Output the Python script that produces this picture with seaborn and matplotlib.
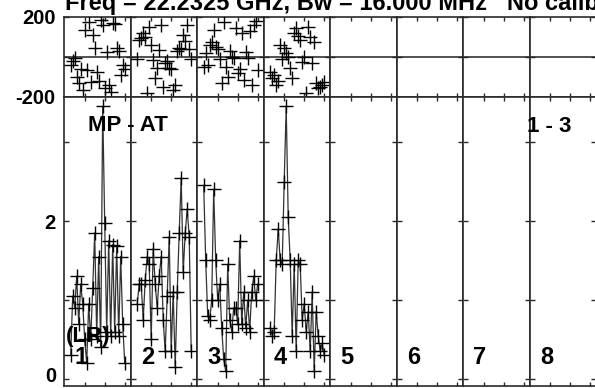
import matplotlib
matplotlib.use("Agg")
import matplotlib.pyplot as plt
import seaborn as sns
import pandas as pd

# channel numbers used in every baseline panel
channels = list(range(3, 31))

# amplitude per panel (panels 1-4 carry data, 5-8 are empty)
amp_1 = [0.30, 1.05, 0.90, 1.30, 0.70, 1.20, 0.95, 0.50, 0.20, 0.95, 0.50, 1.15, 1.85, 0.55,
         1.55, 0.40, 3.45, 1.97, 0.60, 1.75, 0.55, 1.70, 0.60, 1.68, 0.55, 1.55, 0.70, 0.20]
amp_2 = [0.95, 1.20, 1.20, 0.75, 1.25, 1.55, 1.45, 0.50, 1.65, 1.20, 0.90, 1.30, 1.55, 0.75,
         0.35, 1.05, 1.80, 0.35, 1.10, 0.15, 1.10, 1.85, 2.55, 1.35, 1.85, 2.15, 1.80, 0.35]
amp_3 = [2.45, 1.50, 0.80, 0.75, 1.00, 2.40, 1.50, 1.00, 1.20, 0.65, 0.25, 0.10, 1.45, 0.75,
         0.60, 0.90, 0.90, 0.70, 1.75, 0.70, 1.10, 0.65, 1.00, 0.60, 1.10, 1.30, 1.00, 1.20]
amp_4 = [0.65, 0.55, 0.60, 1.50, 1.90, 1.50, 1.45, 2.50, 3.45, 2.05, 1.50, 0.55, 1.45, 0.35,
         1.50, 1.45, 0.75, 0.95, 0.60, 0.85, 0.35, 1.10, 0.10, 0.85, 0.55, 0.35, 0.45, 0.30]

# phase per panel, degrees
ph_1 = [-40, -20, -5, -100, -130, -60, -165, 135, -65, 175, -125, 110, 45, -75,
        -120, 185, 160, -155, 25, -140, -175, 170, 165, 45, 30, -90, -40, -60]
ph_2 = [-10, 85, 95, 120, 100, -180, 150, 60, -15, -105, -55, 35, 160, -150,
        -30, -20, -55, -60, -165, -140, 30, 45, 40, 110, 80, 160, 40, -10]
ph_3 = [-50, 20, -40, 60, 75, 135, 50, 40, -10, -130, 175, -50, -100, 30,
        0, -5, 145, -80, -60, 120, -115, 25, -5, 130, -140, 160, 180, -65]
ph_4 = [-75, -105, -90, -140, -120, 60, -10, 45, 20, 0, -55, -105, 120, 145,
        105, 85, -25, 0, -180, 150, 100, -30, 75, -130, -155, -150, -140, -125]

panel_labels = ["1", "2", "3", "4", "5", "6", "7", "8"]
amp_data = [amp_1, amp_2, amp_3, amp_4, None, None, None, None]
ph_data = [ph_1, ph_2, ph_3, ph_4, None, None, None, None]

title = "Freq = 22.2325 GHz, Bw = 16.000 MHz   No calibration applied"

sns.set_style("ticks")
plt.rcParams["font.family"] = ["Liberation Sans", "DejaVu Sans"]
plt.rcParams["font.weight"] = "bold"
plt.rcParams["text.color"] = "black"
plt.rcParams["ytick.labelcolor"] = "black"

W, H = 595, 388
fig = plt.figure(figsize=(W / 100, H / 100), dpi=100)


def px(x, y):
    return x / W, 1 - y / H


panel_w = 66.5
x0 = 64
spine_col = "#2a2a2a"


def style_axes(ax, first):
    for s in ax.spines.values():
        s.set_color(spine_col)
        s.set_linewidth(1.2)
    ax.set_xlim(-0.35, 32.9)
    ax.set_xticks([10, 20, 30])
    ax.tick_params(axis="x", direction="in", top=True, bottom=True, length=3,
                   width=1, color=spine_col, labelbottom=False)
    ax.tick_params(axis="y", direction="in", left=True, right=True, length=3.8,
                   width=1, color=spine_col, labelleft=first, labelsize=14.5, pad=6,
                   labelcolor="black")
    ax.set_xlabel("")
    ax.set_ylabel("")


for k in range(8):
    left = (x0 + panel_w * k) / W
    wdt = panel_w / W

    # phase row
    axp = fig.add_axes([left, 1 - 97 / H, wdt, 80 / H])
    if ph_data[k] is not None:
        dfp = pd.DataFrame({"chan": channels, "phase": ph_data[k]})
        sns.scatterplot(data=dfp, x="chan", y="phase", ax=axp, marker="+", s=100,
                        color="black", linewidth=1.0, legend=False, zorder=3)
    axp.axhline(0, color="#222222", lw=1.1, zorder=1)
    axp.set_ylim(-200, 200)
    axp.set_yticks([-200, 0, 200])
    axp.set_yticklabels(["-200", "", "200"])
    style_axes(axp, k == 0)

    # amplitude row ("0" label is drawn separately so it stays inside the frame)
    axa = fig.add_axes([left, 1 - 386 / H, wdt, 289 / H])
    if amp_data[k] is not None:
        dfa = pd.DataFrame({"chan": channels, "amp": amp_data[k]})
        sns.lineplot(data=dfa, x="chan", y="amp", ax=axa, color="#333333", lw=0.9,
                     marker="+", markersize=10.5, markeredgewidth=1.0,
                     markeredgecolor="black", zorder=3)
    axa.set_ylim(-0.089, 3.57)
    axa.set_yticks([0, 1, 2, 3])
    axa.set_yticklabels(["", "", "2", ""])
    style_axes(axa, k == 0)

    fig.text(*px(x0 + panel_w * k + 10.5, 364), panel_labels[k], fontsize=17,
             fontweight="bold", va="baseline", ha="left", color="black")

fig.text(*px(56, 386.5), "0", fontsize=14.5, fontweight="bold", va="bottom", ha="right",
         color="black")
fig.text(*px(65, 10), title, fontsize=17, fontweight="bold", va="baseline", ha="left",
         color="black")
fig.text(*px(88, 131), "MP - AT", fontsize=16, fontweight="bold", va="baseline", color="black")
fig.text(*px(527, 132), "1 - 3", fontsize=16, fontweight="bold", va="baseline", color="black")
fig.text(*px(66, 342), "(LR)", fontsize=16, fontweight="bold", va="baseline", color="black")

fig.savefig("out.png", dpi=100)
